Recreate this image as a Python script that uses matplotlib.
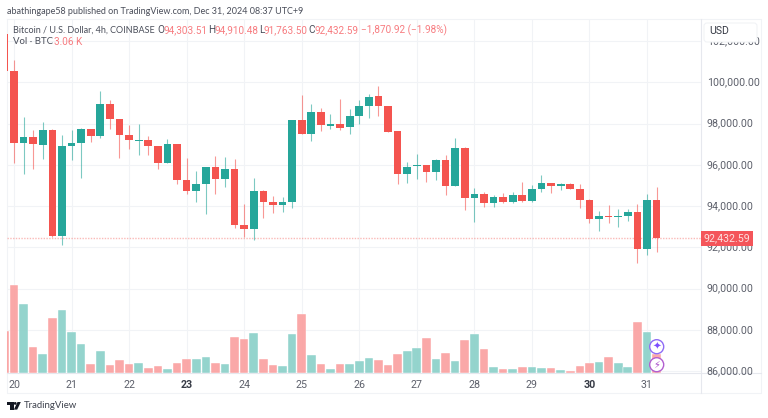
"""
BTC/USD 4h candles with volume, TradingView snapshot
"""

import matplotlib.pyplot as plt
import numpy as np
from matplotlib.patches import Circle, FancyBboxPatch, Polygon, Rectangle
from matplotlib.transforms import ScaledTranslation

plt.rcParams["font.family"] = ["Roboto", "DejaVu Sans"]

# Candles, 4h each. First one is cut by the left edge of the chart
opens = [
    102356, 100548, 97062, 97353, 96981, 97675, 92543, 96901, 97046, 97724, 97417, 98950, 98208,
    97449, 97175, 97191, 96901, 96094, 96998, 95271, 94722, 95061, 95884, 95287, 95771, 93092,
    92866, 94722, 94189, 94060, 94205, 98192, 97498, 98547, 97901, 97966, 97821, 98386, 98870,
    99322, 98870, 97627, 95545, 95932, 95997, 95626, 96255, 94948, 96820, 94399, 94560, 94141,
    94415, 94189, 94544, 94238, 94819, 95109, 94964, 95077, 94835, 94302, 93382, 93511, 93479,
    93511, 93705, 91897, 94303.51,
]
highs = [
    102356, 101065, 98321, 97708, 98095, 97724, 97433, 97708, 97760, 97756, 99564, 99128, 98208,
    97917, 97966, 97385, 96933, 97240, 97030, 96336, 95690, 95900, 96416, 96384, 96271, 94092,
    95351, 94770, 94496, 94447, 98192, 99402, 98967, 98773, 98450, 99209, 98708, 99160, 99435,
    99838, 98870, 97659, 96158, 96513, 95997, 96287, 96465, 97320, 96868, 94851, 94673, 94512,
    94609, 94673, 95141, 95012, 95496, 95109, 95125, 95109, 95061, 94334, 93737, 94044, 93834,
    93834, 94092, 94560, 94910.48,
]
lows = [
    100548, 96094, 95529, 95819, 96287, 92478, 92107, 96223, 95351, 97110, 97304, 97724, 96336,
    96755, 96465, 96465, 95803, 96094, 95045, 94577, 94173, 93608, 94577, 94932, 92946, 92511,
    92349, 93398, 93673, 93689, 93882, 97514, 97159, 97627, 97740, 97675, 97514, 97998, 98256,
    98353, 97611, 95061, 95093, 95319, 95174, 95254, 94528, 94948, 93802, 93205, 93963, 93963,
    94125, 94125, 94189, 94205, 94673, 94641, 94770, 94819, 93882, 93188, 92801, 93156, 92995,
    93285, 91252, 91623, 91763.50,
]
closes = [
    100548, 97062, 97353, 96998, 97675, 92543, 96901, 97046, 97740, 97417, 98950, 98208, 97449,
    97191, 97223, 96901, 96094, 96998, 95271, 94722, 95045, 95884, 95287, 95771, 93092, 92866,
    94722, 94189, 94060, 94205, 98192, 97514, 98547, 97917, 97966, 97772, 98386, 98870, 99289,
    98870, 97611, 95545, 95916, 95981, 95626, 96255, 94948, 96820, 94399, 94560, 94141, 94415,
    94189, 94544, 94238, 94819, 95093, 94964, 95077, 94835, 94302, 93382, 93527, 93479, 93511,
    93705, 91897, 94286, 92432.59,
]
# Volume in thousands of BTC
volumes = [
    6.76, 13.99, 10.93, 4.17, 3.00, 8.76, 10.03, 6.55, 4.70, 1.43, 3.48, 1.37, 2.16, 1.43, 1.69,
    0.90, 1.16, 0.69, 1.64, 2.22, 2.27, 2.64, 1.58, 1.43, 5.81, 5.44, 6.39, 2.27, 1.27, 1.16,
    6.18, 9.35, 2.85, 1.53, 0.74, 1.43, 1.53, 1.90, 2.38, 2.11, 1.37, 3.06, 3.48, 4.01, 5.60,
    2.27, 3.17, 1.95, 5.23, 6.23, 3.80, 1.06, 0.69, 0.69, 0.95, 1.00, 0.84, 0.79, 0.48, 0.42,
    1.16, 1.64, 1.85, 2.64, 1.58, 1.00, 8.18, 6.49, 3.06,
]
day_labels = ["20", "21", "22", "23", "24", "25", "26", "27", "28", "29", "30", "31"]
bold_days = ["23", "30"]
price_ticks = [86000, 88000, 90000, 92000, 94000, 96000, 98000, 100000, 102000]
last_price = 92432.59

RED = "#f4544f"
GREEN = "#26a69a"
RED_VOL = "#faa6a6"
GREEN_VOL = "#92d3cc"
GRID = "#f1f3f6"
TEXT = "#4a4e5a"
LEGEND_RED = "#f77c80"

W, H = 768, 418


def px_axes(left, top, right, bottom):
    return [left / W, 1 - bottom / H, (right - left) / W, (bottom - top) / H]


def px_overlay(zorder):
    # Axes covering the whole picture, coordinates are pixels from top left
    a = fig.add_axes([0, 0, 1, 1], zorder=zorder)
    a.set_xlim(0, W)
    a.set_ylim(H, 0)
    a.axis("off")
    return a


fig = plt.figure(figsize=(W / 100, H / 100), dpi=100)
under = px_overlay(-1)
ax = fig.add_axes(px_axes(7, 19, 700.7, 373.3))
ax_vol = fig.add_axes(px_axes(7, 19, 700.7, 373.3), sharex=ax)
ax.patch.set_visible(False)

x = np.arange(len(opens)) - 1
o, h, l, c = map(np.array, (opens, highs, lows, closes))
up = c >= o
colors = np.where(up, GREEN, RED)

"""
Candles
"""
ax.vlines(x, l, h, colors=colors, linewidth=0.8, alpha=0.6, zorder=3)
ax.bar(x, np.abs(c - o), bottom=np.minimum(o, c), width=0.8, color=colors, linewidth=0, zorder=4)
ax.axhline(last_price, color=RED, linestyle=(0, (1, 1)), linewidth=1, alpha=0.4, zorder=2)

ax.set_xlim(-0.73, 71.6)
ax.set_ylim(85888, 103069)

ax.set_yticks(price_ticks)
ax.set_yticklabels([f"{p:,.2f}" for p in price_ticks])
ax.yaxis.tick_right()
ax.tick_params(axis="y", length=0, pad=4.3, labelsize=7.7, labelcolor="#5d606b")
up_1px = ScaledTranslation(0, 1 / 100, fig.dpi_scale_trans)
for label in ax.get_yticklabels():
    label.set_horizontalalignment("left")
    label.set_transform(label.get_transform() + up_1px)

ax.set_xticks(np.arange(len(day_labels)) * 6)
ax.set_xticklabels(day_labels)
ax.tick_params(axis="x", length=0, pad=5, labelsize=7.7, labelcolor="#5d606b")
for label in ax.get_xticklabels():
    if label.get_text() in bold_days:
        label.set_fontweight("bold")
        label.set_color("#363a45")

ax.grid(True, color=GRID, linewidth=0.8)
ax.set_axisbelow(True)
for spine in ax.spines.values():
    spine.set_visible(False)

# Current price tag sits over the axis labels
ax.text(
    1.0045, last_price, f"{last_price:,.2f}", transform=ax.get_yaxis_transform(),
    fontsize=7.7, color="#fde0df", va="center", ha="left", zorder=6, clip_on=False,
    bbox={"boxstyle": "square,pad=0.22", "facecolor": "#f4555a", "edgecolor": "none"},
)

"""
Volume, same x axis and its own scale
"""
vol_colors = np.where(up, GREEN_VOL, RED_VOL)
ax_vol.bar(x, volumes, width=0.9, color=vol_colors, edgecolor="#ffffff", linewidth=0.3, alpha=0.98)
ax_vol.set_ylim(0, 56.1)
ax_vol.patch.set_visible(False)
ax_vol.axis("off")

"""
Everything else is placed in pixels of the picture
"""
# Frame goes behind the candles, the first candle sits right on it
under.plot([7, 760.5, 760.5, 7, 7], [19, 19, 393, 393, 19], color=GRID, linewidth=0.8)
under.plot([7, 760.5], [373.3, 373.3], color="#e6e8ee", linewidth=0.8)
under.plot([700.7, 700.7], [19, 393], color="#e6e8ee", linewidth=0.8)

over = px_overlay(10)

over.text(7, 11, "abathingape58 published on TradingView.com, Dec 31, 2024 08:37 UTC+9",
          fontsize=6.5, color=TEXT, va="center", family="Lato")

over.text(13, 30, "Bitcoin / U.S. Dollar, 4h, COINBASE", fontsize=6.47, color=TEXT, va="center",
          family="Lato")
legend_parts = [
    (157.3, "O", TEXT), (163.7, "94,303.51", LEGEND_RED),
    (208.3, "H", TEXT), (214.7, "94,910.48", LEGEND_RED),
    (259.3, "L", TEXT), (264, "91,763.50", LEGEND_RED),
    (308.3, "C", TEXT), (314.7, "92,432.59", LEGEND_RED),
    (361.3, "\u22121,870.92 (\u22121.98%)", LEGEND_RED),
]
for xp, txt, col in legend_parts:
    over.text(xp, 30, txt, fontsize=7.2, color=col, va="center")
over.text(13, 42, "Vol \u00b7 BTC", fontsize=6.9, color=TEXT, va="center", family="Lato")
over.text(54, 42, "3.06 K", fontsize=7.2, color=LEGEND_RED, va="center")

# Currency button hides nearly all of the top price label
over.add_patch(FancyBboxPatch((704, 23), 53, 19, boxstyle="round,pad=0,rounding_size=3",
                              facecolor="white", edgecolor=GRID, linewidth=0.8))
over.text(709.5, 31, "USD", fontsize=7.6, color="#363a45", va="center")

# Chart icons on the last volume bar
over.add_patch(Circle((656.7, 346.7), 7, facecolor="white", edgecolor="#8f6cf5", linewidth=1))
over.text(656.7, 346.9, "\u2726", fontsize=7.5, color="#7c4dff", ha="center", va="center",
          family="DejaVu Sans")
over.add_patch(Circle((656.7, 364.7), 7, facecolor="white", edgecolor="#b25fd0", linewidth=1))
over.text(656.7, 364.9, "\u26a1", fontsize=7, color="#a64ac9", ha="center", va="center",
          family="DejaVu Sans")

# Logo
over.add_patch(Rectangle((7, 402), 6.5, 2.6, color="#131722", linewidth=0))
over.add_patch(Rectangle((10, 402), 3.5, 7.6, color="#131722", linewidth=0))
over.add_patch(Circle((15.2, 403.4), 1.4, color="#131722", linewidth=0))
over.add_patch(Polygon([(17.5, 402), (20.8, 402), (17.2, 409.6), (13.9, 409.6)], color="#131722",
                       linewidth=0))
over.text(24, 406, "TradingView", fontsize=6.9, color="#3f434e", va="center", family="Lato")

plt.savefig("out.png", dpi=100)
plt.close()
